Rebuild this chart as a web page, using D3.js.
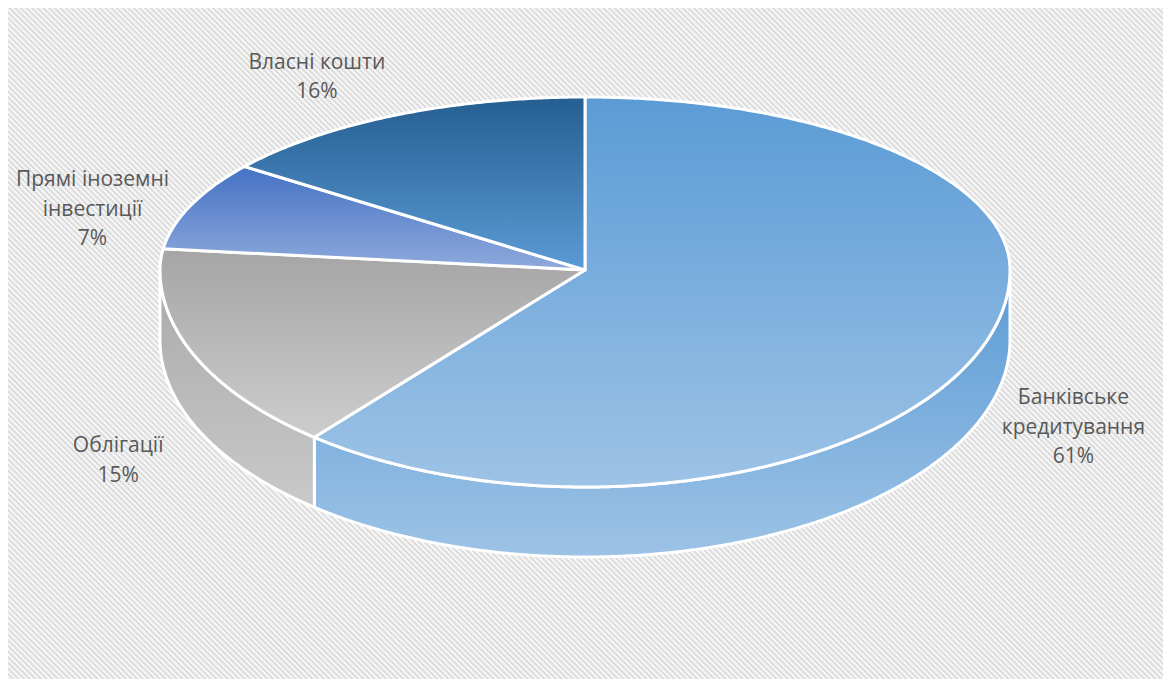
<!DOCTYPE html>
<html>
<head>
<meta charset="utf-8">
<script src="https://cdn.jsdelivr.net/npm/d3@7"></script>
<style>
  body { margin: 0; background: #ffffff; }
  svg { display: block; }
</style>
</head>
<body>
<svg id="chart"></svg>
<script>
// Дані діаграми
const categories = ["Банківське кредитування", "Облігації", "Прямі іноземні інвестиції", "Власні кошти"];
const values = [61.4, 15.3, 7.4, 15.9];
const labelLines = [["Банківське", "кредитування"], ["Облігації"], ["Прямі іноземні", "інвестиції"], ["Власні кошти"]];

// Кольори (верх / низ градієнта)
const topColors = [["#5b9bd5", "#9dc3e6"], ["#a5a5a5", "#cdcdcd"], ["#4472c4", "#8faadc"], ["#255e91", "#5b9bd5"]];
const sideColors = [["#5b9bd5", "#9dc3e6"], ["#a9a9a9", "#c9c9c9"], ["#4472c4", "#8faadc"], ["#255e91", "#5b9bd5"]];

// зсув підписів від краю діаграми
const labelOffset = [[93, 77], [-74, 107], [-99, 4], [-89, -37]];

const width = 1163;
const height = 679;
const cx = 585;
const cy = 270;
const rx = 425;
const ryFar = 173;
const ryNear = 217;
const depth = 70;
const warpFar = 4.4 * Math.PI / 180;
const warpNear = 1.5 * Math.PI / 180;

// псевдо-3D проекція: справжній кут -> точка на еліпсі
function warp(t) {
  const a = Math.cos(t) > 0 ? warpFar : warpNear;
  return t - a * Math.sin(2 * t);
}
function project(t, r, down) {
  const u = warp(t);
  const c = Math.cos(u);
  const ry = c > 0 ? ryFar : ryNear;
  return [cx + r * rx * Math.sin(u), cy - r * ry * c + (down || 0)];
}

const svg = d3.select("#chart").attr("width", width).attr("height", height);
const defs = svg.append("defs");

// фон з діагональними смугами
const pat = defs
  .append("pattern")
  .attr("id", "stripes")
  .attr("patternUnits", "userSpaceOnUse")
  .attr("width", 4)
  .attr("height", 4)
  .attr("patternTransform", "rotate(-45)");
pat.append("rect").attr("width", 4).attr("height", 4).attr("fill", "#f7f7f7");
pat.append("rect").attr("width", 2).attr("height", 4).attr("fill", "#dcdcdc");

svg
  .append("rect")
  .attr("x", 8)
  .attr("y", 8)
  .attr("width", width - 8)
  .attr("height", height - 8)
  .attr("fill", "url(#stripes)");

function addGradient(id, colors) {
  const g = defs
    .append("linearGradient")
    .attr("id", id)
    .attr("x1", 0)
    .attr("y1", 0)
    .attr("x2", 0)
    .attr("y2", 1);
  g.append("stop").attr("offset", "0%").attr("stop-color", colors[0]);
  g.append("stop").attr("offset", "100%").attr("stop-color", colors[1]);
}
topColors.forEach((c, i) => addGradient("top" + i, c));
sideColors.forEach((c, i) => addGradient("side" + i, c));

const pie = d3.pie().sort(null).value((d) => d);
const arcs = pie(values);

const line = d3.line();
const step = Math.PI / 360;

function rimPoints(a, b, down) {
  const pts = [];
  const n = Math.max(2, Math.ceil((b - a) / step));
  for (let i = 0; i <= n; i++) pts.push(project(a + ((b - a) * i) / n, 1, down));
  return pts;
}

// видима зона бокової стінки (передня половина)
const visStart = Math.PI / 2;
const visEnd = Math.PI * 1.5;

const g = svg.append("g");

// бокові стінки
arcs.forEach((a, i) => {
  const s = Math.max(a.startAngle, visStart);
  const e = Math.min(a.endAngle, visEnd);
  if (e <= s) return;
  const topPts = rimPoints(s, e, 0);
  const botPts = rimPoints(s, e, depth).reverse();
  g.append("path")
    .attr("d", line(topPts.concat(botPts)) + "Z")
    .attr("fill", "url(#side" + i + ")")
    .attr("stroke", "#ffffff")
    .attr("stroke-width", 3)
    .attr("stroke-linejoin", "round");
});

// верхні грані
arcs.forEach((a, i) => {
  const pts = [[cx, cy]].concat(rimPoints(a.startAngle, a.endAngle, 0));
  g.append("path")
    .attr("d", line(pts) + "Z")
    .attr("fill", "url(#top" + i + ")")
    .attr("stroke", "#ffffff")
    .attr("stroke-width", 3)
    .attr("stroke-linejoin", "round");
});

// підписи
const total = d3.sum(values);
arcs.forEach((a, i) => {
  const mid = (a.startAngle + a.endAngle) / 2;
  const p = project(mid, 1, 0);
  const lx = p[0] + labelOffset[i][0];
  const ly = p[1] + labelOffset[i][1];
  const lines = labelLines[i].concat([Math.round((values[i] / total) * 100) + "%"]);
  const lh = 29.5;
  const t = svg
    .append("text")
    .attr("text-anchor", "middle")
    .style("font-family", "'Open Sans', sans-serif")
    .style("font-size", "21px")
    .attr("fill", "#595959");
  lines.forEach((s, k) => {
    t.append("tspan")
      .attr("x", lx)
      .attr("y", ly + (k - (lines.length - 1) / 2) * lh)
      .attr("dy", "0.35em")
      .text(s);
  });
});
</script>
</body>
</html>
